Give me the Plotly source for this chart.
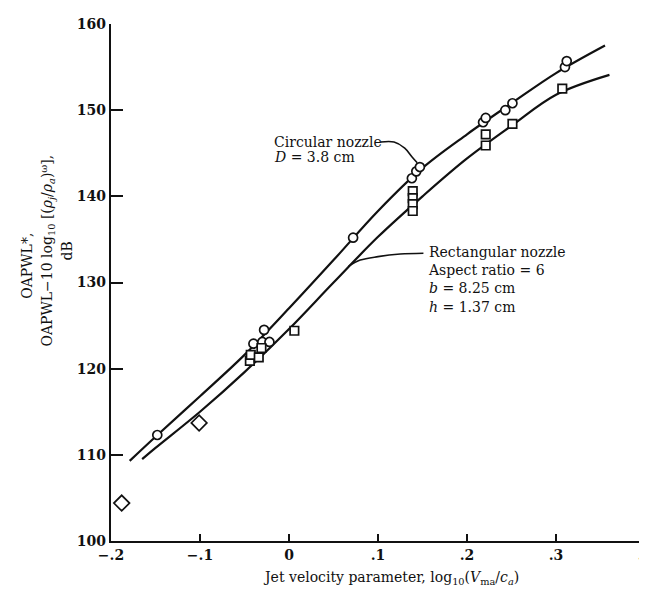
import plotly.graph_objects as go

# ---- data ----
circ_x = [-0.148, -0.04, -0.03, -0.028, -0.022, 0.072, 0.138, 0.143, 0.147, 0.218, 0.221, 0.243, 0.251, 0.31, 0.312]
circ_y = [112.3, 122.9, 123.1, 124.5, 123.1, 135.2, 142.1, 142.9, 143.4, 148.6, 149.1, 150.0, 150.8, 155.0, 155.7]

rect_x = [-0.044, -0.043, -0.034, -0.031, 0.006, 0.139, 0.139, 0.139, 0.139, 0.221, 0.221, 0.251, 0.307]
rect_y = [120.9, 121.6, 121.3, 122.4, 124.4, 140.6, 139.8, 139.1, 138.3, 147.2, 145.9, 148.4, 152.5]

diam_x = [-0.188, -0.101]
diam_y = [104.4, 113.7]

circ_curve_x = [-0.179, -0.15, -0.1, -0.05, 0.0, 0.05, 0.1, 0.15, 0.2, 0.25, 0.3, 0.355]
circ_curve_y = [109.3, 112.1, 116.8, 121.6, 127.0, 132.6, 138.3, 143.3, 147.2, 150.8, 154.3, 157.5]

rect_curve_x = [-0.165, -0.15, -0.1, -0.05, 0.0, 0.05, 0.1, 0.15, 0.2, 0.25, 0.3, 0.36]
rect_curve_y = [109.5, 110.8, 115.0, 119.6, 124.6, 130.0, 135.3, 140.0, 144.4, 148.2, 151.8, 154.1]

x_tickvals = [-0.2, -0.1, 0.0, 0.1, 0.2, 0.3, 0.4]
x_ticktext = ["\u2212.2", "\u2212.1", "0", ".1", ".2", ".3", ".4"]
y_tickvals = [100, 110, 120, 130, 140, 150, 160]

# leader lines for the labels
circ_lead_x = [0.103, 0.118, 0.130, 0.138, 0.144]
circ_lead_y = [146.3, 146.3, 145.6, 144.6, 143.9]
rect_lead_x = [0.151, 0.125, 0.100, 0.080, 0.067]
rect_lead_y = [133.4, 133.3, 133.0, 132.6, 131.9]

FONT = "DejaVu Serif"
ink = "#111111"

fig = go.Figure()

for cx, cy in ((circ_curve_x, circ_curve_y), (rect_curve_x, rect_curve_y)):
    fig.add_trace(go.Scatter(x=cx, y=cy, mode="lines",
                             line=dict(color=ink, width=2.2, shape="spline", smoothing=1.0),
                             hoverinfo="skip"))
for lx, ly in ((circ_lead_x, circ_lead_y), (rect_lead_x, rect_lead_y)):
    fig.add_trace(go.Scatter(x=lx, y=ly, mode="lines",
                             line=dict(color=ink, width=1.6, shape="spline"), hoverinfo="skip"))

fig.add_trace(go.Scatter(x=circ_x, y=circ_y, mode="markers", name="Circular",
                         marker=dict(symbol="circle", size=9, color="white",
                                     line=dict(color=ink, width=1.7))))
fig.add_trace(go.Scatter(x=rect_x, y=rect_y, mode="markers", name="Rectangular",
                         marker=dict(symbol="square", size=8.5, color="white",
                                     line=dict(color=ink, width=1.7))))
fig.add_trace(go.Scatter(x=diam_x, y=diam_y, mode="markers", name="Other",
                         marker=dict(symbol="diamond", size=12, color="white",
                                     line=dict(color=ink, width=1.7))))

txt = dict(family=FONT, size=14, color=ink)

fig.add_annotation(x=-0.019, y=146.3, xref="x", yref="y", xanchor="left", yanchor="middle",
                   text="Circular nozzle", showarrow=False, font=txt)
fig.add_annotation(x=-0.019, y=144.6, xref="x", yref="y", xanchor="left", yanchor="middle",
                   text="<i>D</i> = 3.8 cm", showarrow=False, font=txt)
fig.add_annotation(x=0.154, y=130.3, xref="x", yref="y", xanchor="left", yanchor="middle",
                   text="Rectangular nozzle<br>Aspect ratio = 6<br><i>b</i> = 8.25 cm<br><i>h</i> = 1.37 cm",
                   showarrow=False, align="left", font=txt)

# y-axis title (three rotated lines)
PL, PW, PT, PH = 103, 542, 16, 517
def px(xp):
    return (xp - PL) / PW
def py(yp):
    return (PT + PH - yp) / PH

fig.add_annotation(x=px(18), y=py(258), xref="paper", yref="paper", xanchor="center", yanchor="middle",
                   textangle=-90, showarrow=False, text="OAPWL*,", font=txt)
fig.add_annotation(x=px(39), y=py(243), xref="paper", yref="paper", xanchor="center", yanchor="middle",
                   textangle=-90, showarrow=False,
                   text="OAPWL\u221210 log<sub>10</sub> [(<i>\u03c1<sub>j</sub></i>/<i>\u03c1<sub>a</sub></i>)<sup>\u03c9</sup>],",
                   font=txt)
fig.add_annotation(x=px(59), y=py(243), xref="paper", yref="paper", xanchor="center", yanchor="middle",
                   textangle=-90, showarrow=False, text="dB", font=txt)

# x-axis title
fig.add_annotation(x=px(386), y=py(570), xref="paper", yref="paper", xanchor="center", yanchor="middle",
                   showarrow=False,
                   text="Jet velocity parameter, log<sub>10</sub>(<i>V</i><sub>ma</sub>/<i>c<sub>a</sub></i>)",
                   font=txt)

tickf = dict(family=FONT, size=14, color=ink, weight="bold")

fig.update_layout(
    width=647, height=591,
    margin=dict(l=PL, r=647 - PL - PW, t=PT, b=591 - PT - PH),
    paper_bgcolor="white", plot_bgcolor="white",
    showlegend=False,
    font=txt,
    xaxis=dict(range=[-0.2, 0.4033], tickvals=x_tickvals, ticktext=x_ticktext,
               ticks="inside", ticklen=7, tickwidth=1.6, tickcolor=ink,
               showline=True, linecolor=ink, linewidth=2.2, showgrid=False, zeroline=False,
               tickfont=tickf, ticklabeloverflow="allow"),
    yaxis=dict(range=[100, 160], tickvals=y_tickvals,
               ticks="inside", ticklen=12, tickwidth=1.6, tickcolor=ink,
               showline=True, linecolor=ink, linewidth=2.2, showgrid=False, zeroline=False,
               tickfont=tickf),
)

fig.write_html("out.html")
